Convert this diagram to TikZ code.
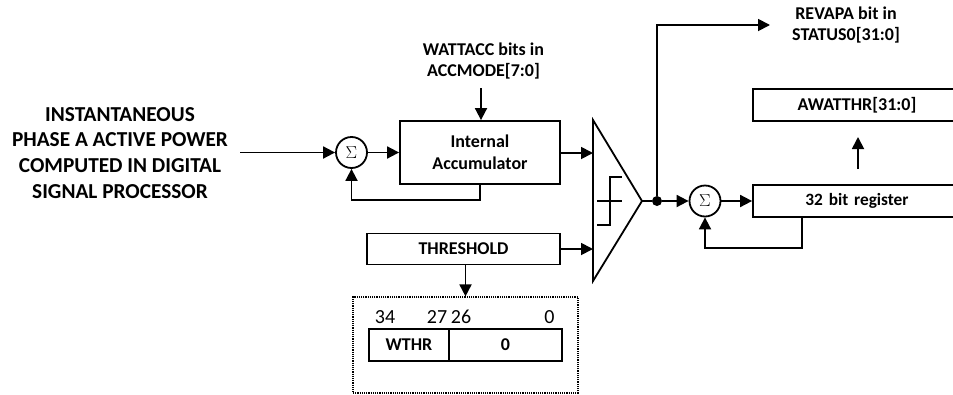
\documentclass[tikz,border=0pt]{standalone}
\usepackage{fontspec}
\setmainfont{Carlito}
\usetikzlibrary{arrows.meta}
\tikzset{
  wire/.style={line width=1.8pt,-{Triangle[length=12pt,width=12pt]}},
  plainwire/.style={line width=1.8pt},
  blockbox/.style={draw,line width=1.8pt,align=center,font=\fontsize{18}{21.7}\selectfont\bfseries,inner sep=0pt},
  sumnode/.style={draw,circle,line width=1.8pt,minimum size=31pt,inner sep=0pt,font=\fontsize{18}{18}\selectfont},
  caption/.style={align=center,font=\fontsize{18}{21}\selectfont\bfseries},
  bitnum/.style={font=\fontsize{20}{20}\selectfont}
}
\begin{document}
\begin{tikzpicture}[x=1pt,y=-1pt]
  \useasboundingbox (0,0) rectangle (953,394);
  \node[align=center,font=\fontsize{21.3}{25.7}\selectfont\bfseries] (power) at (120,152.8) {INSTANTANEOUS\\PHASE A ACTIVE POWER\\COMPUTED IN DIGITAL\\SIGNAL PROCESSOR};
  \coordinate (powerend) at (240,152.5);
  \node[sumnode] (suma) at (351.5,152.5) {$\Sigma$};
  \node[blockbox,minimum width=160pt,minimum height=63pt] (accum) at (480,152.5) {Internal\\Accumulator};
  \node[caption] (wattacc) at (483.5,61) {WATTACC bits in\\ACCMODE[7:0]};
  \coordinate (wattend) at (481,88);
  \node[blockbox,minimum width=193pt,minimum height=31pt] (thresh) at (463.5,249) {THRESHOLD};
  \node[draw,densely dotted,line width=1.2pt,minimum width=225pt,minimum height=96pt,inner sep=0pt] (wbox) at (465.5,345) {};
  \node[blockbox,minimum width=80pt,minimum height=32pt] (wthr) at (409,345) {WTHR};
  \node[blockbox,minimum width=113pt,minimum height=32pt] (zero) at (505.5,345) {0};
  \node[bitnum] (b34) at (385,317) {34};
  \node[bitnum] (b27) at (437,317) {27};
  \node[bitnum] (b26) at (461,317) {26};
  \node[bitnum] (b0) at (549.5,317) {0};
  % comparator
  \coordinate (cmptop) at (593,120);
  \coordinate (cmpbot) at (593,281);
  \coordinate (cmpapex) at (642,201);
  \draw[plainwire,line join=miter] (cmptop) -- (cmpapex) -- (cmpbot) -- cycle;
  \draw[plainwire] (597,225) -- (610,225) -- (610,177) -- (622,177);
  \draw[plainwire] (597,201) -- (622,201);
  \coordinate (cmpin) at (593,153);
  \coordinate (cmpth) at (593,249);
  \node[circle,fill,inner sep=0pt,minimum size=10pt] (tap) at (657,201) {};
  \node[sumnode] (sumb) at (705,201) {$\Sigma$};
  \node[blockbox,minimum width=208pt,minimum height=32pt,text width=208pt,font=\fontsize{17.3}{21}\selectfont\bfseries] (reg) at (857,201) {32 bit register};
  \node[blockbox,minimum width=208pt,minimum height=32pt,text width=208pt] (awatt) at (857,105) {AWATTHR[31:0]};
  \node[caption] (revapa) at (846,25.5) {REVAPA bit in\\STATUS0[31:0]};
  \coordinate (revend) at (770,25);
  \coordinate (upbot) at (858,169);
  \coordinate (uptop) at (858,137);

  \draw[wire] (powerend) -- (suma);
  \draw[wire] (suma) -- (accum);
  \draw[wire] (wattend) -- (wattend |- accum.north);
  \draw[wire] (accum.east |- cmpin) -- (cmpin);
  \draw[wire] (thresh) -- (cmpth);
  \draw[wire] (thresh.south -| wbox) -- (wbox.north);
  \draw[plainwire] (cmpapex) -- (tap);
  \draw[wire] (tap) -- (sumb);
  \draw[wire] (tap) |- (revend);
  \draw[wire] (sumb) -- (reg);
  \draw[wire] (upbot) -- (uptop);
  \draw[wire] (reg.south -| 802,0) -- (802,248) -| (sumb);
  \draw[wire] (accum.south -| 480,0) -- (480,200) -| (suma);
\end{tikzpicture}
\end{document}
